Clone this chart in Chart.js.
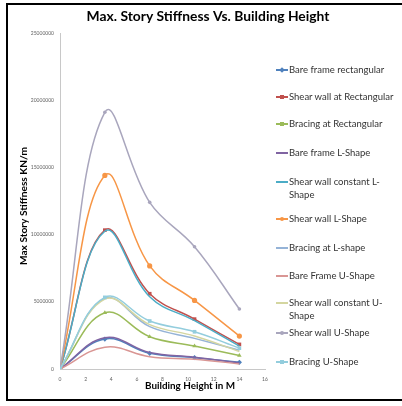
<!DOCTYPE html>
<html><head><meta charset="utf-8">
<script src="https://cdn.jsdelivr.net/npm/chart.js@4.4.1/dist/chart.umd.min.js"></script>
<style>
html,body{margin:0;padding:0;background:#fff;width:402px;height:406px;overflow:hidden;}
#frame{position:absolute;left:6px;top:3px;width:400px;height:398px;border:2px solid #000;box-sizing:border-box;}
#wrap{position:absolute;left:0;top:0;width:402px;height:406px;}
#legend{position:absolute;left:0;top:0;width:402px;height:406px;pointer-events:none;font-family:Lato,'Open Sans',sans-serif;font-size:9.5px;color:#333;}
.item{position:absolute;left:276px;width:126px;display:flex;align-items:flex-start;line-height:13px;}
.sym{position:relative;width:12px;height:13px;flex:none;margin-right:1px;}
.sym .ln{position:absolute;left:0;top:6px;width:12px;height:1.5px;}
.sym .mk{position:absolute;left:4px;top:4.5px;width:4px;height:4px;}
</style></head>
<body>
<div id="wrap"><canvas id="c" width="402" height="406"></canvas></div>
<div id="legend"></div>
<div id="frame"></div>
<script>
const heights = [0, 3.5, 7, 10.5, 14];
const bareFrameRect   = [0, 2230000, 1170000, 840000, 500000];
const shearWallRect   = [0, 10330000, 5600000, 3710000, 1830000];
const bracingRect     = [0, 4180000, 2400000, 1710000, 1000000];
const bareFrameL      = [0, 2330000, 1220000, 880000, 460000];
const shearWallConstL = [0, 10250000, 5370000, 3600000, 1700000];
const shearWallL      = [0, 14400000, 7670000, 5100000, 2450000];
const bracingL        = [0, 5250000, 3150000, 2280000, 1400000];
const bareFrameU      = [0, 1620000, 920000, 720000, 380000];
const shearWallConstU = [0, 5200000, 3300000, 2450000, 1300000];
const shearWallU      = [0, 19100000, 12400000, 9100000, 4460000];
const bracingU        = [0, 5330000, 3570000, 2770000, 1550000];

const seriesNames = ['Bare frame rectangular','Shear wall at Rectangular','Bracing at Rectangular','Bare frame L-Shape','Shear wall constant L-Shape','Shear wall L-Shape','Bracing at L-shape','Bare Frame U-Shape','Shear wall constant U-Shape','Shear wall U-Shape','Bracing U-Shape'];
const seriesValues = [bareFrameRect, shearWallRect, bracingRect, bareFrameL, shearWallConstL, shearWallL, bracingL, bareFrameU, shearWallConstU, shearWallU, bracingU];
const yTicks = [0, 5000000, 10000000, 15000000, 20000000, 25000000];
const xTicks = [0, 2, 4, 6, 8, 10, 12, 14, 16];

const colors = ['#4F81BD','#C0504D','#9BBB59','#8064A2','#4BACC6','#F79646','#95B3D7','#D99694','#D4D6A0','#A9A6BD','#93CDDD'];
const markers = ['rectRot','rect','triangle',false,false,'circle',false,false,false,'circle','rect'];
const legendTops = [63, 90, 117, 146, 175, 212, 241, 269, 296, 326, 355];

const datasets = seriesNames.map((name, i) => ({
  label: name,
  data: heights.map((h, j) => ({x: h, y: seriesValues[i][j]})),
  borderColor: colors[i],
  backgroundColor: colors[i],
  borderWidth: 1.5,
  showLine: true,
  tension: 0.4,
  pointStyle: markers[i] || 'circle',
  pointRadius: markers[i] ? (i === 9 ? 1.8 : 2.6) : 0,
  pointBorderWidth: 0,
  fill: false
}));
datasets.reverse();

function fitFont(ctx, text, target, weight) {
  let size = 20;
  ctx.font = weight + ' ' + size + 'px Lato, sans-serif';
  const w = ctx.measureText(text).width;
  size = size * target / w;
  ctx.font = weight + ' ' + size.toFixed(2) + 'px Lato, sans-serif';
}

const textPlugin = {
  id: 'texts',
  afterDraw(chart) {
    const ctx = chart.ctx;
    ctx.save();
    ctx.fillStyle = '#000';
    ctx.textAlign = 'center';
    ctx.textBaseline = 'middle';
    const t1 = 'Max. Story Stiffness Vs. Building Height';
    fitFont(ctx, t1, 243, 'bold');
    ctx.fillText(t1, 208, 17);
    const t2 = 'Building Height in M';
    fitFont(ctx, t2, 90, 'bold');
    ctx.fillText(t2, 190, 386);
    const t3 = 'Max Story Stiffness KN/m';
    fitFont(ctx, t3, 118, 'bold');
    ctx.translate(24, 206);
    ctx.rotate(-Math.PI / 2);
    ctx.fillText(t3, 0, 0);
    ctx.restore();
  }
};

new Chart(document.getElementById('c'), {
  type: 'scatter',
  data: {datasets},
  options: {
    responsive: false,
    animation: false,
    layout: {padding: {left: 0, top: 33, right: 137, bottom: 0}},
    plugins: {legend: {display: false}, tooltip: {enabled: false}, title: {display: false}},
    scales: {
      x: {
        type: 'linear', min: 0, max: 16,
        afterBuildTicks: s => { s.ticks = xTicks.map(v => ({value: v})); },
        afterFit: s => { s.height = 37; },
        grid: {display: true, drawOnChartArea: false, drawTicks: false},
        border: {color: '#c8c8c8', width: 1},
        ticks: {font: {size: 5, family: 'Lato'}, color: '#606060', padding: 7}
      },
      y: {
        type: 'linear', min: 0, max: 25000000,
        afterBuildTicks: s => { s.ticks = yTicks.map(v => ({value: v})); },
        afterFit: s => { s.width = 60; },
        grid: {display: true, drawOnChartArea: false, drawTicks: false},
        border: {color: '#c8c8c8', width: 1},
        ticks: {font: {size: 5, family: 'Lato'}, color: '#606060', padding: 6, callback: v => String(v)}
      }
    }
  },
  plugins: [textPlugin]
});

const leg = document.getElementById('legend');
seriesNames.forEach((name, i) => {
  const it = document.createElement('div');
  it.className = 'item';
  it.style.top = legendTops[i] + 'px';
  const sym = document.createElement('div');
  sym.className = 'sym';
  const ln = document.createElement('div');
  ln.className = 'ln'; ln.style.background = colors[i];
  sym.appendChild(ln);
  if (markers[i]) {
    const mk = document.createElement('div');
    mk.className = 'mk'; mk.style.background = colors[i];
    if (markers[i] === 'circle') mk.style.borderRadius = '50%';
    if (markers[i] === 'rectRot') mk.style.transform = 'rotate(45deg)';
    sym.appendChild(mk);
  }
  const tx = document.createElement('div');
  tx.textContent = name;
  tx.style.width = '112px';
  it.appendChild(sym); it.appendChild(tx);
  leg.appendChild(it);
});
</script>
</body></html>
